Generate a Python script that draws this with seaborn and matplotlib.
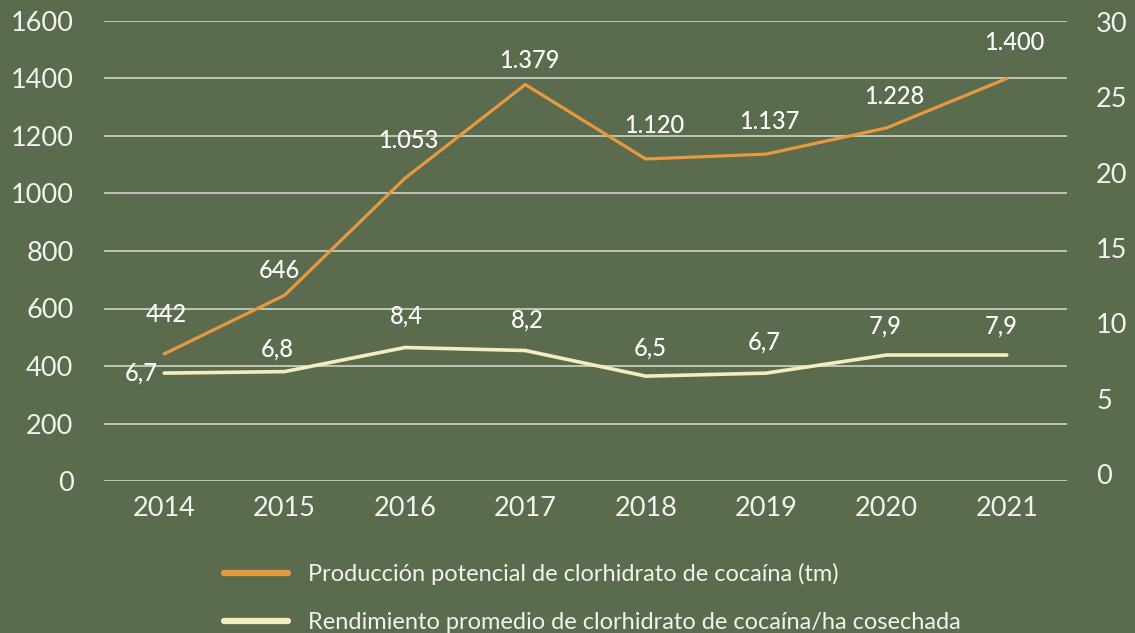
import matplotlib
matplotlib.use("Agg")
import matplotlib.pyplot as plt
from matplotlib.lines import Line2D
import seaborn as sns
import pandas as pd

# Series
anios = ["2014", "2015", "2016", "2017", "2018", "2019", "2020", "2021"]
produccion_tm = [442, 646, 1053, 1379, 1120, 1137, 1228, 1400]
rendimiento_ha = [6.7, 6.8, 8.4, 8.2, 6.5, 6.7, 7.9, 7.9]

etiquetas_produccion = ["442", "646", "1.053", "1.379", "1.120", "1.137", "1.228", "1.400"]
etiquetas_rendimiento = ["6,7", "6,8", "8,4", "8,2", "6,5", "6,7", "7,9", "7,9"]

ticks_izq = [0, 200, 400, 600, 800, 1000, 1200, 1400, 1600]
ticks_der = [0, 5, 10, 15, 20, 25, 30]

nombre_prod = "Producción potencial de clorhidrato de cocaína (tm)"
nombre_rend = "Rendimiento promedio de clorhidrato de cocaína/ha cosechada"

# Styling
FONDO = "#5b6b4e"
NARANJA = "#e6993e"
CREMA = "#f3edc0"
REJILLA = "#c8ccbf"
TEXTO = "#f2f2ee"

sns.set_style("white", {"axes.facecolor": FONDO, "figure.facecolor": FONDO})
plt.rcParams["font.family"] = ["Lato", "DejaVu Sans"]

df = pd.DataFrame({"anio": anios, "prod": produccion_tm, "rend": rendimiento_ha})

fig = plt.figure(figsize=(11.35, 6.33), dpi=100, facecolor=FONDO)
ax = fig.add_axes([104 / 1135, 1 - 481 / 633, (1067 - 104) / 1135, 460 / 633])
ax.set_facecolor(FONDO)
ax2 = ax.twinx()

sns.lineplot(data=df, x="anio", y="prod", ax=ax, color=NARANJA, linewidth=2.3, sort=False)
sns.lineplot(data=df, x="anio", y="rend", ax=ax2, color=CREMA, linewidth=2.6, sort=False)

ax.set_xlim(-0.5, len(anios) - 0.5)
ax.set_ylim(0, 1600)
ax2.set_ylim(-0.46, 30.07)

ax.set_yticks(ticks_izq)
ax.set_yticklabels([str(t) for t in ticks_izq])
ax2.set_yticks(ticks_der)
ax2.set_yticklabels([str(t) for t in ticks_der])
ax.set_xticks(range(len(anios)))
ax.set_xticklabels(anios)

ax.grid(axis="y", color=REJILLA, linewidth=1.3)
ax.grid(axis="x", visible=False)
ax2.grid(False)
ax.set_axisbelow(True)

for a in (ax, ax2):
    for s in a.spines.values():
        s.set_visible(False)
    a.set_xlabel("")
    a.set_ylabel("")

ax.tick_params(axis="y", length=0, pad=22, labelsize=19.5, labelcolor=TEXTO)
ax2.tick_params(axis="y", length=0, pad=21, labelsize=19.5, labelcolor=TEXTO)
ax.tick_params(axis="x", length=0, pad=11, labelsize=19.5, labelcolor=TEXTO)

# Data labels (offsets in pixels from each point)
off_prod = [(2, 41), (-5, 27), (3, 40), (4, 26), (9, 35), (3, 35), (8, 33), (8, 38)]
off_rend = [(-23, 2), (-7, 25), (1, 33), (2, 32), (5, 30), (-2, 33), (-1, 31), (-6, 31)]

for i, (txt, (dx, dy)) in enumerate(zip(etiquetas_produccion, off_prod)):
    ax.annotate(txt, (i, produccion_tm[i]), xytext=(dx, dy), textcoords="offset pixels",
                ha="center", va="center_baseline", fontsize=17, fontweight="medium",
                color="white")
for i, (txt, (dx, dy)) in enumerate(zip(etiquetas_rendimiento, off_rend)):
    ax2.annotate(txt, (i, rendimiento_ha[i]), xytext=(dx, dy), textcoords="offset pixels",
                 ha="center", va="center_baseline", fontsize=17, fontweight="medium",
                 color="white")

# Legend
handles = [Line2D([0], [0], color=NARANJA, linewidth=4.5, solid_capstyle="round"),
           Line2D([0], [0], color=CREMA, linewidth=4.5, solid_capstyle="round")]
leg = fig.legend(handles, [nombre_prod, nombre_rend], loc="upper left",
                 bbox_to_anchor=(224 / 1135, 1 - 563 / 633), frameon=False,
                 borderpad=0, borderaxespad=0, handlelength=2.7, handletextpad=0.85,
                 labelspacing=1.15, prop={"size": 17})
for t in leg.get_texts():
    t.set_color(TEXTO)

fig.savefig("out.png", dpi=100, facecolor=FONDO)
